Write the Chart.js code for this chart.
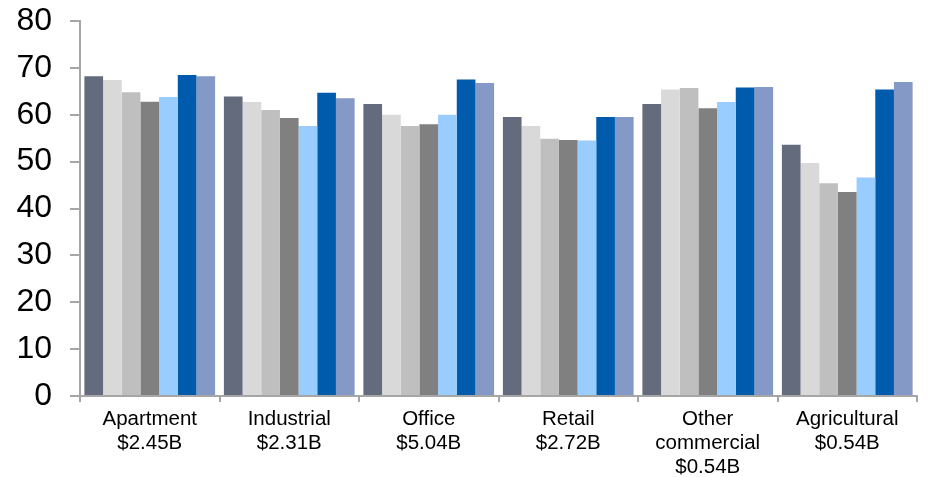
<!DOCTYPE html>
<html>
<head>
<meta charset="utf-8">
<script src="https://cdn.jsdelivr.net/npm/chart.js@4"></script>
<style>
  html, body { margin: 0; padding: 0; background: #fff; }
  #wrap { width: 928px; height: 477px; }
</style>
</head>
<body>
<div id="wrap"><canvas id="myChart" width="928" height="477"></canvas></div>
<script>
// categories (multi-line labels)
const categories = [
  ["Apartment", "$2.45B"],
  ["Industrial", "$2.31B"],
  ["Office", "$5.04B"],
  ["Retail", "$2.72B"],
  ["Other", "commercial", "$0.54B"],
  ["Agricultural", "$0.54B"]
];

// seven series, one value per category
const series1 = [68.2, 63.9, 62.3, 59.5, 62.3, 53.6];
const series2 = [67.4, 62.7, 60.0, 57.6, 65.4, 49.7];
const series3 = [64.8, 61.0, 57.6, 54.9, 65.7, 45.4];
const series4 = [62.8, 59.3, 58.0, 54.6, 61.4, 43.5];
const series5 = [63.8, 57.6, 60.0, 54.5, 62.7, 46.6];
const series6 = [68.5, 64.7, 67.5, 59.5, 65.8, 65.4];
const series7 = [68.2, 63.5, 66.8, 59.5, 65.9, 67.0];

const seriesColors = ['#646B7D', '#D9D9D9', '#BFBFBF', '#808080', '#99CCFF', '#005BAC', '#8599C6'];
const allSeries = [series1, series2, series3, series4, series5, series6, series7];

const ctx = document.getElementById('myChart');

const myChart = new Chart(ctx, {
  type: 'bar',
  data: {
    labels: categories,
    datasets: allSeries.map((s, i) => ({
      label: 'Series ' + (i + 1),
      data: s,
      backgroundColor: seriesColors[i],
      borderWidth: 0
    }))
  },
  options: {
    responsive: false,
    animation: false,
    datasets: {
      bar: { categoryPercentage: 0.937, barPercentage: 1.0 }
    },
    layout: { padding: { top: 21, right: 11, left: 0, bottom: 0 } },
    plugins: {
      legend: { display: false },
      tooltip: { enabled: false }
    },
    scales: {
      x: {
        offset: true,
        grid: {
          display: true,
          offset: true,
          drawOnChartArea: false,
          drawTicks: true,
          tickLength: 6,
          color: '#A6A6A6',
          lineWidth: 2
        },
        border: { display: true, color: '#A6A6A6', width: 2 },
        ticks: {
          color: '#000',
          font: { family: 'Arial, "Liberation Sans", sans-serif', size: 20.5, lineHeight: 1.15 },
          padding: 6,
          maxRotation: 0,
          autoSkip: false
        },
        afterFit: (scale) => {
          scale.height = 81;
          scale.paddingLeft = 0;
          scale.paddingRight = 0;
        }
      },
      y: {
        min: 0,
        max: 80,
        ticks: {
          stepSize: 10,
          color: '#000',
          font: { family: 'Arial, "Liberation Sans", sans-serif', size: 32, lineHeight: 1.2 },
          padding: 18
        },
        grid: {
          display: true,
          drawOnChartArea: false,
          drawTicks: true,
          tickLength: 10,
          color: '#A6A6A6',
          lineWidth: 2
        },
        border: { display: true, color: '#A6A6A6', width: 2 },
        afterFit: (scale) => {
          scale.width = 80;
          scale.paddingTop = 0;
          scale.paddingBottom = 0;
        }
      }
    }
  }
});
</script>
</body>
</html>
